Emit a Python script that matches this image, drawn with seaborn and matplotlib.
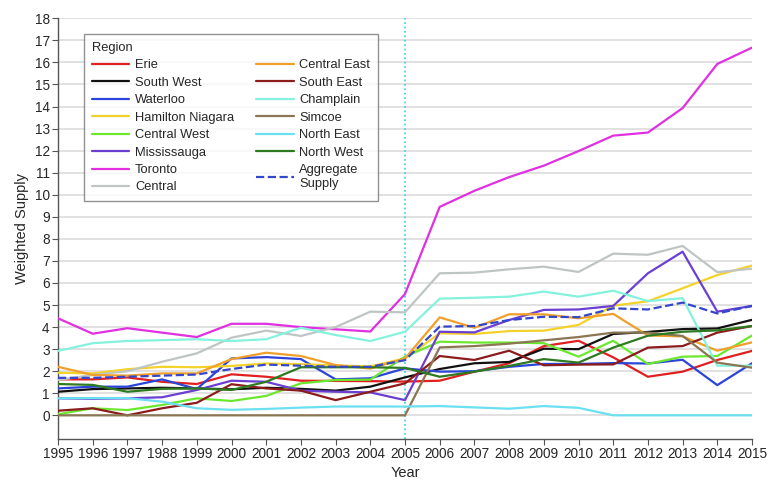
import matplotlib
matplotlib.use("Agg")
import matplotlib.pyplot as plt
import seaborn as sns
import pandas as pd

years = list(range(1995, 2016))
year_labels = ["1995", "1996", "1997", "1988", "1999", "2000", "2001", "2002", "2003", "2004",
               "2005", "2006", "2007", "2008", "2009", "2010", "2011", "2012", "2013", "2014", "2015"]

erie = [1.63, 1.63, 1.72, 1.52, 1.42, 1.86, 1.75, 1.57, 1.56, 1.55, 1.53,
        1.57, 1.98, 2.36, 3.14, 3.38, 2.63, 1.75, 1.98, 2.51, 2.92]
south_west = [1.07, 1.19, 1.22, 1.25, 1.22, 1.18, 1.25, 1.2, 1.12, 1.3, 1.72,
              2.1, 2.36, 2.42, 3.02, 3.0, 3.69, 3.78, 3.91, 3.94, 4.33]
waterloo = [1.22, 1.3, 1.3, 1.63, 1.19, 2.58, 2.64, 2.55, 1.63, 1.68, 2.13,
            1.98, 2.0, 2.2, 2.33, 2.33, 2.37, 2.35, 2.52, 1.37, 2.36]
hamilton_niagara = [1.93, 1.9, 2.09, 2.2, 2.18, 2.24, 2.35, 2.32, 2.26, 2.22, 2.58,
                    3.72, 3.69, 3.82, 3.84, 4.1, 4.97, 5.17, 5.76, 6.36, 6.79]
central_west = [0.05, 0.32, 0.24, 0.47, 0.77, 0.65, 0.88, 1.45, 1.6, 1.62, 2.66,
                3.34, 3.3, 3.3, 3.27, 2.66, 3.38, 2.33, 2.66, 2.69, 3.62]
mississauga = [0.77, 0.75, 0.77, 0.82, 1.15, 1.57, 1.52, 1.12, 1.07, 1.04, 0.69,
               3.79, 3.76, 4.32, 4.78, 4.8, 4.96, 6.44, 7.42, 4.7, 4.96]
toronto = [4.4, 3.7, 3.95, 3.75, 3.55, 4.15, 4.15, 4.0, 3.9, 3.8, 5.5,
           9.45, 10.18, 10.8, 11.32, 11.98, 12.68, 12.82, 13.93, 15.93, 16.67]
central = [1.6, 1.83, 2.0, 2.43, 2.81, 3.52, 3.84, 3.6, 4.0, 4.7, 4.67,
           6.44, 6.47, 6.62, 6.74, 6.5, 7.33, 7.28, 7.68, 6.49, 6.65]
central_east = [2.2, 1.83, 1.8, 1.9, 1.9, 2.55, 2.84, 2.69, 2.28, 2.12, 2.58,
                4.44, 3.97, 4.58, 4.58, 4.4, 4.6, 3.62, 3.58, 2.93, 3.31]
south_east = [0.21, 0.32, 0.0, 0.32, 0.57, 1.41, 1.22, 1.12, 0.69, 1.07, 1.45,
              2.69, 2.51, 2.93, 2.27, 2.3, 2.31, 3.07, 3.14, 3.75, 4.05]
champlain = [2.92, 3.27, 3.37, 3.41, 3.45, 3.37, 3.45, 3.97, 3.64, 3.37, 3.79,
             5.29, 5.33, 5.38, 5.61, 5.38, 5.65, 5.18, 5.31, 2.25, 2.25]
simcoe = [0.0, 0.0, 0.0, 0.0, 0.0, 0.0, 0.0, 0.0, 0.0, 0.0, 0.0,
          3.08, 3.14, 3.25, 3.4, 3.55, 3.75, 3.75, 3.6, 2.39, 2.16]
north_east = [0.77, 0.78, 0.78, 0.62, 0.32, 0.25, 0.29, 0.35, 0.4, 0.4, 0.4,
              0.42, 0.36, 0.3, 0.42, 0.34, 0.0, 0.0, 0.0, 0.0, 0.0]
north_west = [1.42, 1.38, 1.07, 1.2, 1.22, 1.15, 1.52, 2.18, 2.18, 2.18, 2.15,
              1.75, 1.98, 2.24, 2.55, 2.39, 3.07, 3.61, 3.79, 3.85, 4.05]
aggregate = [1.7, 1.7, 1.75, 1.8, 1.85, 2.1, 2.3, 2.25, 2.2, 2.2, 2.5,
             4.02, 4.05, 4.32, 4.47, 4.45, 4.85, 4.8, 5.11, 4.62, 4.96]

series = [
    ("Erie", erie, "#e02020", "-"),
    ("South West", south_west, "#111111", "-"),
    ("Waterloo", waterloo, "#2a45d8", "-"),
    ("Hamilton Niagara", hamilton_niagara, "#f3d22a", "-"),
    ("Central West", central_west, "#6be82e", "-"),
    ("Mississauga", mississauga, "#6a3fd2", "-"),
    ("Toronto", toronto, "#e030e0", "-"),
    ("Central", central, "#bfc5c5", "-"),
    ("Central East", central_east, "#f0a02a", "-"),
    ("South East", south_east, "#8c1c1c", "-"),
    ("Champlain", champlain, "#84f2dc", "-"),
    ("Simcoe", simcoe, "#8a7652", "-"),
    ("North East", north_east, "#6ae0f0", "-"),
    ("North West", north_west, "#2e7a20", "-"),
    ("Aggregate\nSupply", aggregate, "#3446cc", "--"),
]

sns.set_style("white")
plt.rcParams["font.family"] = ["Liberation Sans", "DejaVu Sans"]

fig = plt.figure(figsize=(7.8, 4.92), dpi=100)
ax = fig.add_axes([58 / 780, 1 - 438.5 / 492, (752 - 58) / 780, (438.5 - 18.3) / 492])

# 2005 marker line
ax.axvline(2005, color="#30d0e0", linestyle=":", linewidth=1.2, zorder=1)

for name, vals, col, ls in series:
    df = pd.DataFrame({"Year": years, "Value": vals})
    sns.lineplot(data=df, x="Year", y="Value", color=col, linestyle=ls,
                 linewidth=1.6, label=name, ax=ax, zorder=3)

ax.set_xlim(1995, 2015)
ax.set_ylim(-1.05, 18)
ax.set_xticks(years)
ax.set_xticklabels(year_labels)
ax.set_yticks(range(0, 19))
ax.yaxis.grid(True, color="#dcdcdc", linewidth=1.2)
ax.xaxis.grid(False)
ax.set_axisbelow(True)

for s in ["top", "right"]:
    ax.spines[s].set_visible(False)
for s in ["left", "bottom"]:
    ax.spines[s].set_color("#555555")
    ax.spines[s].set_linewidth(1.0)
ax.tick_params(axis="both", which="both", length=4, color="#555555",
               labelsize=9.8, bottom=True, left=True, pad=2)

ax.set_xlabel("Year", fontsize=10.5)
ax.set_ylabel("Weighted Supply", fontsize=10.5)

leg = ax.legend(title="Region", ncol=2, loc="upper left", bbox_to_anchor=(0.0375, 0.9626),
                borderaxespad=0, fontsize=9.3, title_fontsize=9.3, frameon=True,
                fancybox=False, edgecolor="#777777", handlelength=2.9, handletextpad=0.45,
                columnspacing=1.7, labelspacing=0.42, borderpad=0.6)
leg.get_frame().set_linewidth(1.0)
leg._legend_box.align = "left"

fig.savefig("out.png", dpi=100)
